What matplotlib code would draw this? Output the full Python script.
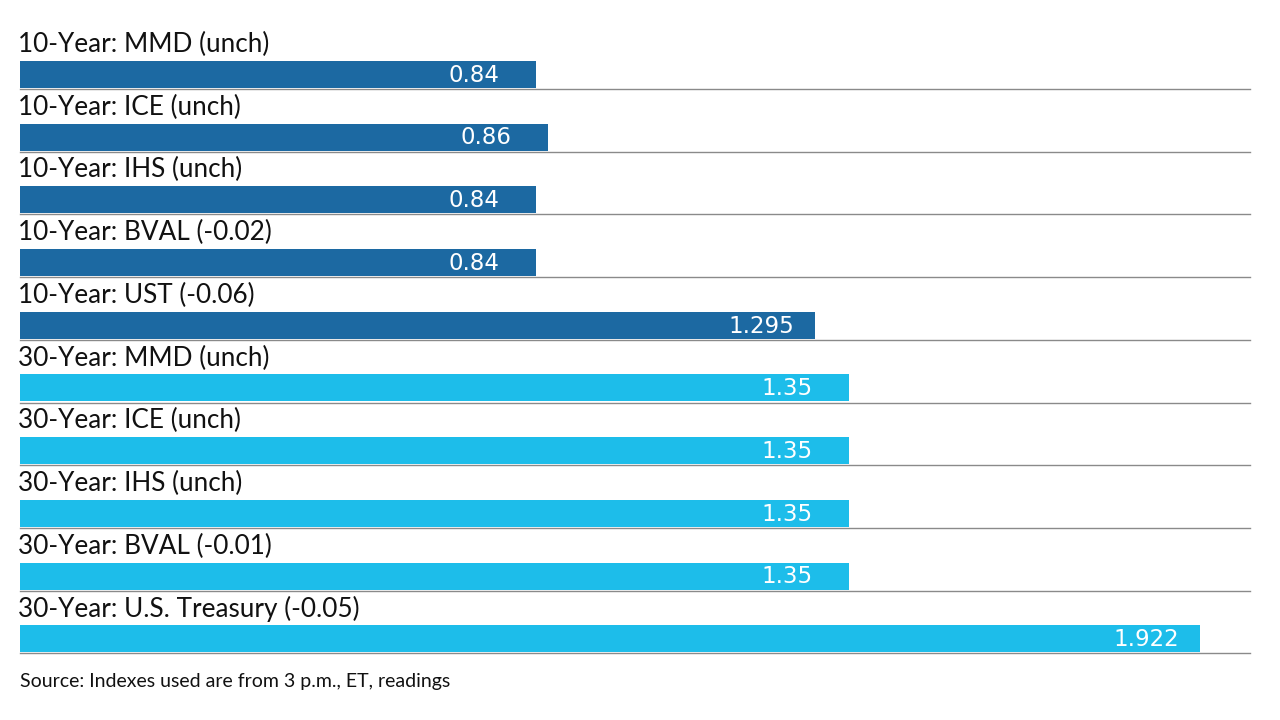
import matplotlib.pyplot as plt

labels = [
    "10-Year: MMD (unch)",
    "10-Year: ICE (unch)",
    "10-Year: IHS (unch)",
    "10-Year: BVAL (-0.02)",
    "10-Year: UST (-0.06)",
    "30-Year: MMD (unch)",
    "30-Year: ICE (unch)",
    "30-Year: IHS (unch)",
    "30-Year: BVAL (-0.01)",
    "30-Year: U.S. Treasury (-0.05)",
]
values = [0.84, 0.86, 0.84, 0.84, 1.295, 1.35, 1.35, 1.35, 1.35, 1.922]
value_labels = ["0.84", "0.86", "0.84", "0.84", "1.295", "1.35", "1.35", "1.35", "1.35", "1.922"]
groups = ["10", "10", "10", "10", "10", "30", "30", "30", "30", "30"]

colors = {"10": "#1c69a2", "30": "#1dbdea"}

W, H = 1280, 720
fig = plt.figure(figsize=(W / 100, H / 100), dpi=100)

# axes spans the rows area, in pixels: x 20..1250, y 26..653
px_per_unit = 614.0
left, right = 20, 1250
top, bottom = 26.3, 653.3
ax = fig.add_axes([left / W, 1 - bottom / H, (right - left) / W, (bottom - top) / H])
ax.set_xlim(0, (right - left) / px_per_unit)
ax.set_ylim(len(values), 0)
ax.axis("off")

label_font = ["Lato", "DejaVu Sans"]

for i, (lab, val, vlab, g) in enumerate(zip(labels, values, value_labels, groups)):
    ax.barh(i + 0.768, val, height=0.43, color=colors[g], linewidth=0)
    ax.text(-0.003, i + 0.29, lab, fontsize=18.8, family=label_font,
            va="center", ha="left", color="#111111")
    # numbers right aligned with room for three decimals
    decimals = len(vlab.split(".")[1])
    pad = 15 + (3 - decimals) * 11.5
    ax.annotate(vlab, xy=(val, i + 0.78), xytext=(-pad, 0),
                textcoords="offset points", ha="right", va="center",
                fontsize=16.5, color="white", family="DejaVu Sans")
    ax.axhline(i + 1, color="#8a8a8a", linewidth=1.0, clip_on=False)

fig.text(20 / W, 1 - 681 / H, "Source: Indexes used are from 3 p.m., ET, readings",
         fontsize=14, family=label_font, va="center", ha="left", color="#111111")

fig.savefig("out.png", dpi=100)
